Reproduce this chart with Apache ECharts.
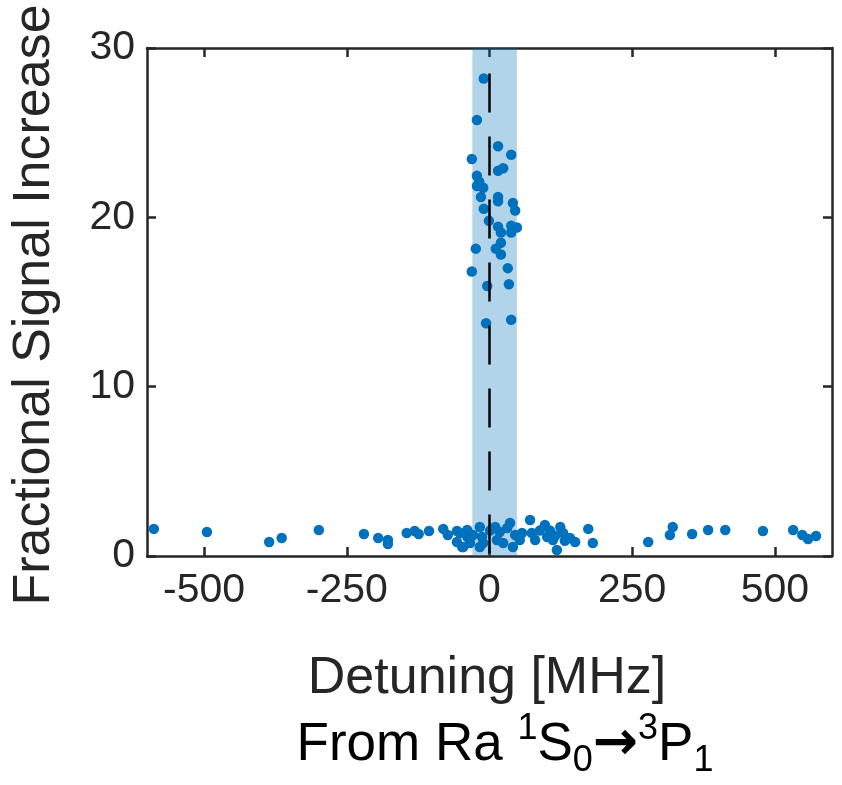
<!DOCTYPE html>
<html><head><meta charset="utf-8">
<script src="https://cdn.jsdelivr.net/npm/echarts@6/dist/echarts.min.js"></script>
<style>html,body{margin:0;padding:0;background:#fff}#c{width:842px;height:785px}</style>
</head><body><div id="c"></div>
<script>
// ---- data ----
const xTicks = [-500, -250, 0, 250, 500];
const yTicks = [0, 10, 20, 30];
const xRange = [-600, 600];
const yRange = [0, 30];

// resonant points (inside the shaded band)
const peakDetuning = [-10, -22, 15, 38, -31, 24, 15, -22, -18, -22, -11, -15, 15, 15, 41, 45, -10, -1, 15, 20, 38, 48, 38, 20, 11, 20, -24, -31, 32, -4, 34, -6, 38];
const peakSignal   = [28.2, 25.75, 24.2, 23.7, 23.45, 22.9, 22.75, 22.45, 22.1, 21.85, 21.75, 21.2, 21.2, 20.95, 20.85, 20.4, 20.5, 19.8, 19.45, 19.1, 19.5, 19.4, 19.1, 18.5, 18.15, 17.8, 18.15, 16.8, 17.0, 15.95, 16.05, 13.75, 13.95];

// background points (baseline)
const baseDetuning = [-588, -495, -386, -364, -299, -220, -195, -178, -178, -145, -131, -124, -106, -81, -73, -57, -57, -48, -39, -29,
  -52, -39, -17, -13, -17, -34, -46, -11, 1, 10, 18, 13, 24, 31, 36, 45, 41, 53, 57, 71, 74, 80, 88, 97, 101, 106, 111, 115, 118, 124, 129, 132, 141, 150, 173, 181,
  278, 316, 321, 355, 383, 413, 479, 532, 548, 558, 572];
const baseSignal = [1.6, 1.42, 0.83, 1.06, 1.54, 1.3, 1.06, 0.95, 0.71, 1.36, 1.48, 1.3, 1.48, 1.6, 1.24, 1.48, 0.83, 0.53, 1.12, 1.24,
  1.36, 1.54, 1.71, 1.12, 0.53, 0.77, 0.53, 0.77, 1.5, 1.71, 1.42, 0.95, 0.77, 1.65, 1.95, 1.24, 0.53, 0.95, 1.36, 2.13, 1.36, 0.95, 1.5, 1.83, 1.12, 1.5, 0.95, 1.2, 0.35, 1.71, 1.36, 0.9, 1.06, 0.83, 1.6, 0.77,
  0.83, 1.24, 1.71, 1.3, 1.54, 1.54, 1.48, 1.54, 1.24, 1.0, 1.18];

const bandRange = [-30, 48];          // shaded detuning window [MHz]
const guideDetuning = [0, 0];         // dashed guide line
const guideSignal = [28.5, 0];

// ---- chart ----
const AX = '#262626';
const FONT = '"Liberation Sans", Arial, Helvetica, sans-serif';
const points = peakDetuning.map((x, i) => [x, peakSignal[i]])
  .concat(baseDetuning.map((x, i) => [x, baseSignal[i]]));
const guide = guideDetuning.map((x, i) => [x, guideSignal[i]]);

function xAx(pos, labels) {
  return {
    type: 'value', position: pos, min: xRange[0], max: xRange[1],
    axisLine: { show: true, onZero: false, lineStyle: { color: AX, width: 2.5 } },
    axisTick: { show: true, inside: true, length: 9, customValues: xTicks, lineStyle: { color: AX, width: 2.5 } },
    axisLabel: { show: labels, customValues: xTicks, fontSize: 41, fontFamily: FONT, color: AX, margin: 14 },
    splitLine: { show: false }
  };
}
function yAx(pos, labels) {
  return {
    type: 'value', position: pos, min: yRange[0], max: yRange[1],
    axisLine: { show: true, onZero: false, lineStyle: { color: AX, width: 2.5 } },
    axisTick: { show: true, inside: true, length: 9, customValues: yTicks, lineStyle: { color: AX, width: 2.5 } },
    axisLabel: { show: labels, customValues: yTicks, fontSize: 41, fontFamily: FONT, color: AX, margin: 12 },
    splitLine: { show: false }
  };
}

const chart = echarts.init(document.getElementById('c'), null, { renderer: 'canvas' });
chart.setOption({
  animation: false,
  backgroundColor: '#fff',
  grid: { left: 147, right: 10, top: 48, bottom: 229, containLabel: false, outerBoundsMode: 'none' },
  xAxis: [xAx('bottom', true), xAx('top', false)],
  yAxis: [yAx('left', true), yAx('right', false)],
  series: [
    {
      type: 'scatter', data: [], z: 1, silent: true,
      markArea: {
        silent: true,
        itemStyle: { color: 'rgba(0,114,189,0.3)' },
        data: [[{ xAxis: bandRange[0], yAxis: yRange[0] }, { xAxis: bandRange[1], yAxis: yRange[1] }]]
      }
    },
    {
      type: 'scatter', data: points, symbol: 'circle', symbolSize: 10.5, z: 2, silent: true,
      itemStyle: { color: '#0072BD', opacity: 1 }
    },
    {
      type: 'line', data: guide, z: 3, symbol: 'none', silent: true,
      lineStyle: { color: '#000', width: 2.5, type: [39, 24] }
    }
  ],
  graphic: [
    {
      type: 'text', x: 35, y: 305, rotation: Math.PI / 2,
      style: { text: 'Fractional Signal Increase', fontSize: 52, fontFamily: FONT, fill: AX, align: 'center', verticalAlign: 'middle' }
    },
    {
      type: 'text', x: 487, y: 679,
      style: { text: 'Detuning [MHz]', fontSize: 52, fontFamily: FONT, fill: AX, align: 'center', verticalAlign: 'middle' }
    },
    {
      type: 'text', x: 505, y: 745,
      style: {
        text: '{n|From Ra }{sup|1}{n|S}{sub|0}{ar|→}{sup|3}{n|P}{sub|1}',
        align: 'center', verticalAlign: 'middle',
        rich: {
          n: { fontSize: 53, fontFamily: FONT, fill: '#000', lineHeight: 68 },
          sup: { fontSize: 36, fontFamily: FONT, fill: '#000', verticalAlign: 'top', lineHeight: 42 },
          sub: { fontSize: 36, fontFamily: FONT, fill: '#000', verticalAlign: 'bottom', lineHeight: 42 },
          ar: { fontSize: 54, fontFamily: '"DejaVu Sans", sans-serif', fontWeight: 'bold', fill: '#000', lineHeight: 68 }
        }
      }
    }
  ]
});
</script>
</body></html>
